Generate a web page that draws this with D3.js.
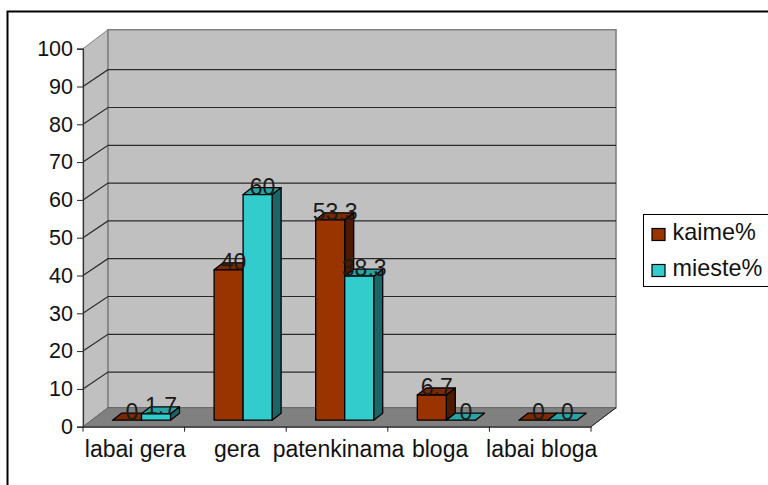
<!DOCTYPE html>
<html><head><meta charset="utf-8">
<script src="https://cdn.jsdelivr.net/npm/d3@7/dist/d3.min.js"></script>
<style>html,body{margin:0;padding:0;background:#fff;overflow:hidden}svg{display:block}text{font-family:"Liberation Sans",Arial,sans-serif;fill:#111}</style>
</head><body><svg id="c" width="768" height="485"></svg>
<script>
const categories = ["labai gera","gera","patenkinama","bloga","labai bloga"];
const seriesNames = ["kaime%","mieste%"];
const kaime = [0,40,53.3,6.7,0];
const mieste = [1.7,60,38.3,0,0];
const kaimeLabels = ["0","40","53.3","6.7","0"];
const miesteLabels = ["1.7","60","38.3","0","0"];
const yTicks = [0,10,20,30,40,50,60,70,80,90,100];
const colors = {front:["#993300","#33CCCC"],top:["#7A2900","#29A3A3"],side:["#4D1A00","#1A6666"]};

const svg = d3.select("#c");
const L=83,R=591,Y0=426.7,Y100=48.7,DX=25,DY=-19,GDY=-16.8;
const x = d3.scaleBand().domain(categories).range([L,R]);
const y = d3.scaleLinear().domain([0,100]).range([Y0,Y100]);
const yBar = d3.scaleLinear().domain([0,100]).range([420.2,44.2]);
const inner = d3.scaleBand().domain([0,1]).range([0,58]);
const barX = (c,i)=> x(c)+29.5+inner(i);
const bd = {x:9,y:-7};
const poly = p => p.map(a=>a.join(",")).join(" ");

svg.append("rect").attr("x",7.5).attr("y",11.5).attr("width",800).attr("height",500).attr("fill","#fff").attr("stroke","#000").attr("stroke-width",2);

// walls
svg.append("polygon").attr("points",poly([[L,y(0)],[L,y(100)],[L+DX,y(100)+DY],[L+DX,y(0)+DY]])).attr("fill","#C0C0C0").attr("stroke","#808080");
svg.append("polygon").attr("points",poly([[L+DX,y(100)+DY],[R+DX,y(100)+DY],[R+DX,y(0)+DY],[L+DX,y(0)+DY]])).attr("fill","#C0C0C0").attr("stroke","#808080").attr("stroke-width",1.6);
svg.append("polygon").attr("points",poly([[L,y(0)],[L+DX,y(0)+DY],[R+DX,y(0)+DY],[R,y(0)]])).attr("fill","#808080").attr("stroke","#666");
svg.append("line").attr("x1",R).attr("y1",Y0).attr("x2",R+DX).attr("y2",Y0+DY).attr("stroke","#222");

// gridlines
yTicks.filter(t=>t>0&&t<100).forEach(t=>{
  svg.append("path").attr("d",`M${L},${y(t)}L${L+DX},${y(t)+GDY}L${R+DX},${y(t)+GDY}`).attr("fill","none").attr("stroke","#2a2a2a").attr("stroke-width",1.2);
});

// axes
const yAxis = d3.axisLeft(y).tickValues(yTicks).tickSize(6).tickPadding(4).tickFormat(d3.format("d"));
const gy = svg.append("g").attr("transform",`translate(${L},0)`).call(yAxis);
gy.select(".domain").attr("stroke","#333").attr("stroke-width",1.2);
gy.selectAll(".tick line").attr("stroke","#222");
gy.selectAll("text").attr("font-size",21.5).attr("fill","#111").style("font-family","Liberation Sans");

const xAxis = d3.axisBottom(x).tickValues([]).tickSize(0);
const gx = svg.append("g").attr("transform",`translate(0,${Y0})`).call(xAxis);
gx.select(".domain").attr("stroke","#222").attr("stroke-width",1.2);
d3.range(6).forEach(i=>{
  const px=L+i*x.step();
  svg.append("line").attr("x1",px).attr("x2",px).attr("y1",Y0).attr("y2",Y0+5).attr("stroke","#222");
});
categories.forEach(c=>{
  svg.append("text").attr("x",x(c)+x.bandwidth()/2+1.5).attr("y",457).attr("text-anchor","middle").attr("font-size",23).text(c);
});

// bars
[kaime,mieste].forEach((vals,s)=>{
  categories.forEach((c,i)=>{
    const w=inner.bandwidth(), x0=barX(c,s), b=yBar(0), t=yBar(vals[i]);
    const g=svg.append("g").attr("stroke","#000").attr("stroke-width",1.3).attr("stroke-linejoin","round");
    g.append("polygon").attr("points",poly([[x0+w,b],[x0+w,t],[x0+w+bd.x,t+bd.y],[x0+w+bd.x,b+bd.y]])).attr("fill",colors.side[s]);
    g.append("polygon").attr("points",poly([[x0,t],[x0+bd.x,t+bd.y],[x0+w+bd.x,t+bd.y],[x0+w,t]])).attr("fill",colors.top[s]);
    g.append("rect").attr("x",x0).attr("y",t).attr("width",w).attr("height",b-t).attr("fill",colors.front[s]);
  });
});
// value labels
[0,1].forEach(s=>{
  const vals=s?mieste:kaime, labs=s?miesteLabels:kaimeLabels;
  categories.forEach((c,i)=>{
    svg.append("text").attr("x",barX(c,s)+inner.bandwidth()/2+5).attr("y",yBar(vals[i])).attr("text-anchor","middle").attr("font-size",23).style("fill","#1a1a1a").text(labs[i]);
  });
});

// legend
svg.append("rect").attr("x",643.5).attr("y",214.5).attr("width",160).attr("height",72).attr("fill","#fff").attr("stroke","#000");
seriesNames.forEach((n,i)=>{
  const ly=[234.5,270.5][i];
  svg.append("rect").attr("x",652).attr("y",ly-6).attr("width",13).attr("height",12).attr("fill",colors.front[i]).attr("stroke","#000").attr("stroke-width",1.2);
  svg.append("text").attr("x",672.5).attr("y",[240,276][i]).attr("font-size",23.4).text(n);
});
</script></body></html>
